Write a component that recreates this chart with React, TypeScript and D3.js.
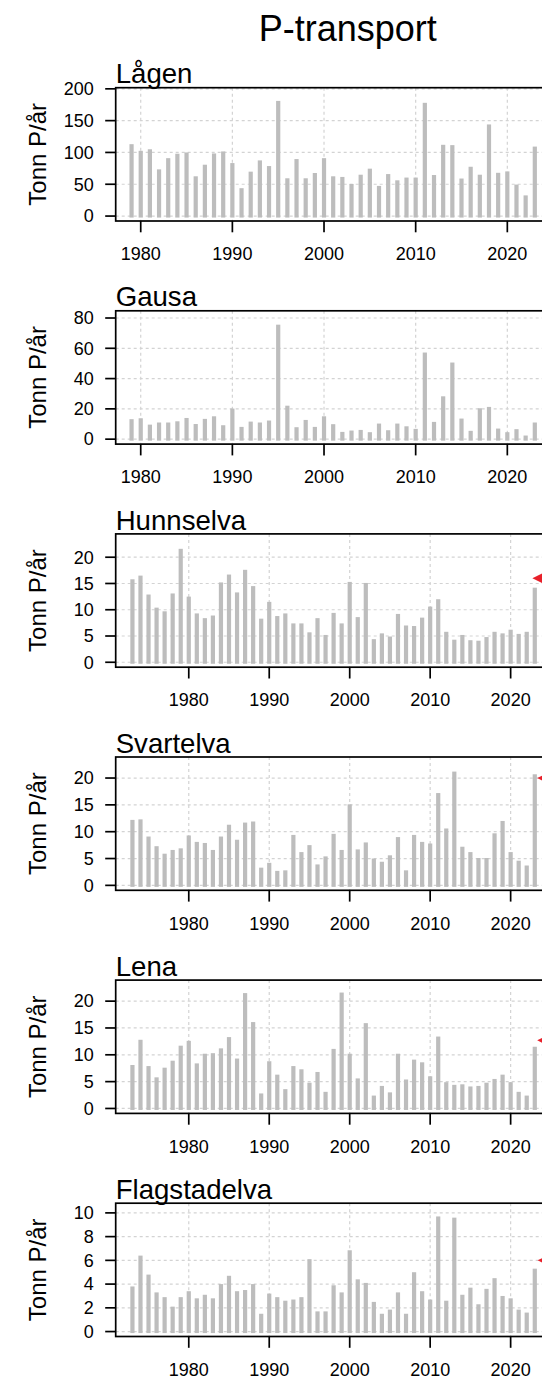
import React from 'react';
import * as d3 from 'd3';

// ---- data (Tonn P/år) ----
const LAGEN = [113, 102.6, 105, 73.4, 91, 98, 100, 62.5, 80.7, 98.4, 101.6, 83.3, 43.8, 69.8, 87.5, 78.6, 181, 59.4, 89.6, 59.4, 67.7, 91, 62.5, 61.5, 50.5, 65, 74.5, 47.4, 66, 56.2, 60.5, 60.5, 178, 64.5, 112, 111.5, 59, 77.5, 65, 144, 68, 70.2, 49.5, 32.5, 109.2];
const GAUSA = [13.2, 13.8, 9.6, 11, 11, 11.8, 14, 10, 13.4, 15.1, 9.2, 20.2, 8.1, 11.6, 11, 12.3, 75.6, 22.1, 7.9, 12.7, 8.1, 15.1, 9.9, 4.8, 5.7, 6.1, 4.6, 10.3, 5.9, 10.3, 8.5, 6.8, 57.2, 11.4, 28.3, 50.6, 13.6, 5.5, 20.4, 21.3, 7, 4.6, 6.6, 2.4, 11];
const HUNNSELVA = [15.8, 16.5, 12.9, 10.4, 9.7, 13.1, 21.6, 12.5, 9.3, 8.4, 8.9, 15.2, 16.7, 13.3, 17.6, 14.5, 8.3, 11.5, 8.8, 9.3, 7.4, 7.4, 5.7, 8.4, 5.2, 9.4, 7.4, 15.3, 8.6, 15.1, 4.4, 5.5, 4.9, 9.2, 7, 6.9, 8.5, 10.6, 12, 5.8, 4.3, 5.2, 4.2, 4.1, 4.8, 5.8, 5.5, 6.2, 5.4, 5.8, 14.2];
const SVARTELVA = [12.2, 12.3, 9.1, 7.3, 5.9, 6.6, 6.9, 9.3, 8.1, 7.9, 6.6, 9.1, 11.3, 8.5, 11.7, 11.9, 3.3, 4.2, 2.7, 2.8, 9.4, 6.2, 7.5, 3.9, 5.4, 9.6, 6.6, 15.1, 6.7, 8, 5, 4.4, 5.6, 9, 2.8, 9.4, 8.1, 7.8, 17.2, 10.6, 21.2, 7.2, 6.2, 5.1, 5.1, 9.7, 12, 6.2, 4.6, 3.7, 20.7];
const LENA = [8.1, 12.8, 7.9, 5.8, 7.6, 8.9, 11.7, 12.6, 8.4, 10.2, 10.3, 11.2, 13.3, 9.3, 21.5, 16.1, 2.8, 8.8, 6.3, 3.6, 7.9, 7.3, 4.8, 6.8, 3.1, 11.1, 21.6, 10.2, 5.6, 15.9, 2.4, 4.2, 3, 10.2, 5.4, 9.1, 8.6, 6, 13.4, 4.9, 4.4, 4.5, 4.1, 4.2, 4.8, 5.5, 6.3, 4.9, 3.1, 2.4, 11.5];
const FLAGSTADELVA = [3.8, 6.4, 4.8, 3.3, 2.9, 2.1, 2.9, 3.4, 2.8, 3.1, 2.8, 4, 4.7, 3.4, 3.5, 4, 1.5, 3.2, 2.9, 2.6, 2.7, 2.9, 6.1, 1.7, 1.7, 3.9, 3.3, 6.85, 4.4, 4.1, 2.5, 1.5, 1.85, 3.3, 1.5, 5, 3.4, 2.7, 9.7, 2.6, 9.6, 3.1, 3.7, 2.3, 3.6, 4.5, 3, 2.8, 1.85, 1.6, 5.3];

const FIRST_YEAR = [1979, 1979, 1973, 1973, 1973, 1973];
const NAMES = ['Lågen', 'Gausa', 'Hunnselva', 'Svartelva', 'Lena', 'Flagstadelva'];
const SERIES = [LAGEN, GAUSA, HUNNSELVA, SVARTELVA, LENA, FLAGSTADELVA];
const Y_TICKS = [
  [0, 50, 100, 150, 200],
  [0, 20, 40, 60, 80],
  [0, 5, 10, 15, 20],
  [0, 5, 10, 15, 20],
  [0, 5, 10, 15, 20],
  [0, 2, 4, 6, 8, 10],
];
const X_TICKS = [1980, 1990, 2000, 2010, 2020];
// red marker (value, year position of tip)
const MARKERS: (null | { value: number; year: number })[] = [
  null,
  null,
  { value: 16, year: 2022.7 },
  { value: 20, year: 2023.3 },
  { value: 12.7, year: 2023.3 },
  { value: 6.0, year: 2023.35 },
];
// y-axis upper data limit (R style 4% padding applied)
const Y_MAX = [194, 81.5, 23.5, 23, 23, 10.4];
// x domain (box edges in years)
const X_DOMAIN_A: [number, number] = [1977.27, 2027.93];
const X_DOMAIN_B: [number, number] = [1970.92, 2028.62];

const FONT = 'Liberation Sans, Arial, Helvetica, sans-serif';
const W = 542;
const H = 1379;
const LEFT = 115.7;
const RIGHT = 580;
const TOP0 = 87.7;
const STEP = 223.1;
const PH = 133.3;

function Panel({ i }: { i: number }) {
  const top = TOP0 + i * STEP;
  const bottom = top + PH;
  const x = d3.scaleLinear().domain(i < 2 ? X_DOMAIN_A : X_DOMAIN_B).range([LEFT, RIGHT]);
  const M = Y_MAX[i];
  const y = d3.scaleLinear().domain([-0.04 * M, 1.04 * M]).range([bottom, top]);
  const vals = SERIES[i];
  const years = d3.range(FIRST_YEAR[i], FIRST_YEAR[i] + vals.length);
  const m = MARKERS[i];
  const barW = 4.2;
  return (
    <g>
      {/* grid */}
      {Y_TICKS[i].map((t) => (
        <line key={'gy' + t} x1={LEFT} x2={RIGHT} y1={y(t)} y2={y(t)} stroke="#d3d3d3" strokeWidth={1.2} strokeDasharray="3,3" />
      ))}
      {X_TICKS.map((t) => (
        <line key={'gx' + t} x1={x(t)} x2={x(t)} y1={top} y2={bottom} stroke="#d3d3d3" strokeWidth={1.2} strokeDasharray="3,3" />
      ))}
      {/* bars */}
      {vals.map((v, k) => (
        <rect key={k} x={x(years[k]) - barW / 2} y={y(v)} width={barW} height={y(0) - y(v) + 1.5} fill="#bdbdbd" />
      ))}
      {/* marker */}
      {m && (
        <polygon
          points={`${x(m.year)},${y(m.value)} ${x(m.year) + 18},${y(m.value) - 9} ${x(m.year) + 18},${y(m.value) + 9}`}
          fill="#e8202a"
        />
      )}
      {/* box */}
      <rect x={LEFT} y={top} width={RIGHT - LEFT} height={PH} fill="none" stroke="#000" strokeWidth={1.7} />
      {/* y axis */}
      {Y_TICKS[i].map((t) => (
        <g key={'ty' + t}>
          <line x1={LEFT - 10.5} x2={LEFT} y1={y(t)} y2={y(t)} stroke="#000" strokeWidth={1.7} />
          <text x={LEFT - 22} y={y(t)} dy="0.35em" textAnchor="end" fontSize={18} fontFamily={FONT} fill="#000">
            {t}
          </text>
        </g>
      ))}
      {/* x axis */}
      {X_TICKS.map((t) => (
        <g key={'tx' + t}>
          <line x1={x(t)} x2={x(t)} y1={bottom} y2={bottom + 11.3} stroke="#000" strokeWidth={1.7} />
          <text x={x(t)} y={bottom + 39.2} textAnchor="middle" fontSize={18} fontFamily={FONT} fill="#000">
            {t}
          </text>
        </g>
      ))}
      {/* axis title */}
      <text
        transform={`translate(46,${(top + bottom) / 2}) rotate(-90)`}
        textAnchor="middle"
        fontSize={24}
        fontFamily={FONT}
        fill="#000"
      >
        Tonn P/år
      </text>
      {/* panel title */}
      <text x={LEFT} y={top - 4.4} fontSize={27.6} fontFamily={FONT} fill="#000">
        {NAMES[i]}
      </text>
    </g>
  );
}

export default function App() {
  return (
    <svg
      width={W}
      height={H}
      viewBox={`0 0 ${W} ${H}`}
      style={{ position: 'absolute', left: 0, top: 0, background: '#fff', overflow: 'hidden' }}
    >
      <rect x={0} y={0} width={W} height={H} fill="#fff" />
      <text x={(LEFT + RIGHT) / 2} y={41} textAnchor="middle" fontSize={36} fontFamily={FONT} fill="#000">
        P-transport
      </text>
      {NAMES.map((_, i) => (
        <Panel key={i} i={i} />
      ))}
    </svg>
  );
}
